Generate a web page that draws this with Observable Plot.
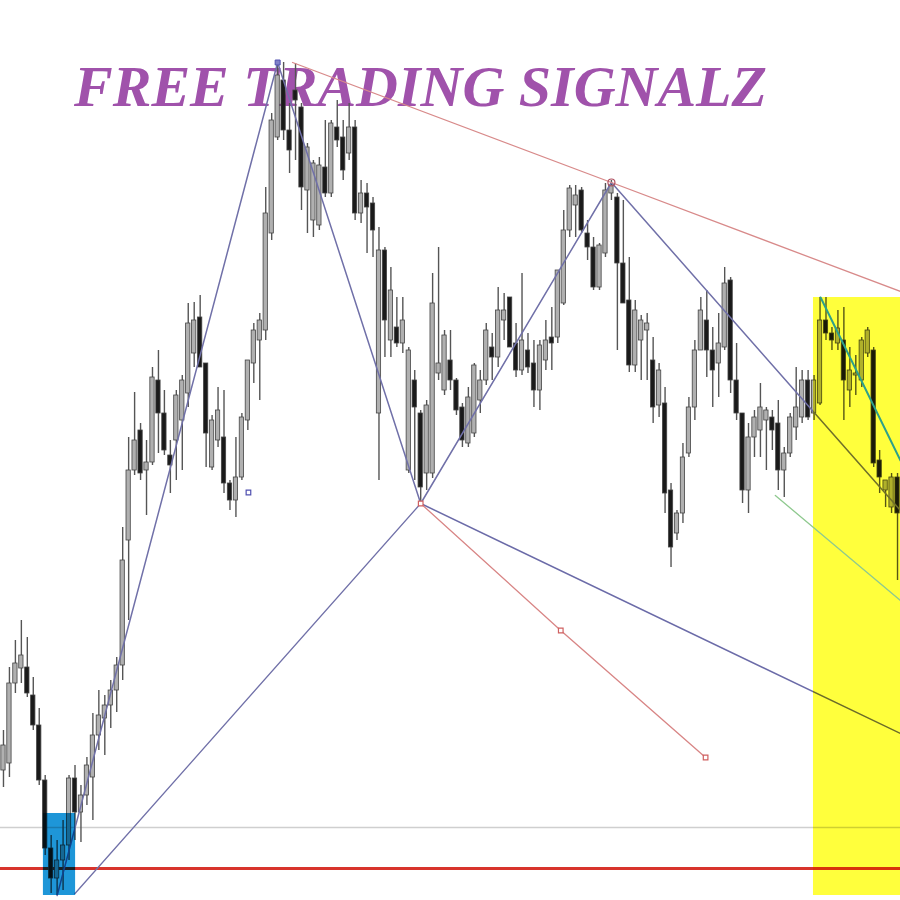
<!DOCTYPE html>
<html><head><meta charset="utf-8">
<script src="https://cdn.jsdelivr.net/npm/d3@7"></script>
<script src="https://cdn.jsdelivr.net/npm/@observablehq/plot@0.6"></script>
<style>html,body{margin:0;padding:0;background:#fff}</style>
</head><body><div id="chart"></div>
<script>
const titleText = "FREE TRADING SIGNALZ";
const opens = [130,137,217,232,233,205,175,120,52,22,40,55,122,88,105,123,165,182,195,210,235,360,430,470,430,438,520,487,445,460,480,507,547,583,537,433,460,463,417,400,423,480,537,560,570,667,763,820,770,810,793,710,680,675,733,707,773,763,747,773,687,707,697,487,650,560,573,557,430,520,487,427,427,527,510,540,520,493,457,467,500,520,553,543,580,603,557,530,550,537,510,540,563,563,597,670,695,710,667,653,613,647,707,703,637,600,535,560,570,540,495,497,410,367,387,447,493,550,580,550,537,553,620,520,487,410,463,470,480,483,477,430,447,473,483,520,487,497,580,567,557,560,510,525,520,547,550,440,410,393,423];
const highs = [170,233,260,280,263,223,192,125,65,60,80,125,135,115,143,187,210,205,220,243,373,463,508,477,460,533,550,510,460,510,525,597,598,605,537,485,513,510,420,463,487,540,577,587,713,787,840,838,797,837,797,757,740,743,780,780,800,780,797,780,720,717,703,673,653,633,603,603,553,530,490,500,627,653,570,570,522,497,513,537,530,577,567,613,607,603,577,627,567,560,560,580,593,630,690,715,715,713,680,663,657,717,720,707,700,643,600,585,587,563,537,513,417,390,457,503,560,603,610,573,587,633,623,557,487,477,490,517,493,490,500,453,487,533,530,530,525,603,603,573,590,593,553,545,563,573,553,450,420,427,427];
const lows = [113,123,207,217,203,170,115,45,7,5,10,40,60,58,95,80,150,145,172,188,220,280,425,420,385,435,447,445,407,420,430,493,533,533,433,430,453,407,390,383,420,470,517,500,560,660,760,760,727,740,690,667,663,670,703,703,753,720,740,680,677,647,643,420,543,543,553,547,427,420,397,410,422,520,505,510,485,453,453,463,487,515,520,533,560,553,523,525,527,493,490,530,530,557,595,663,663,667,640,610,610,643,700,550,597,528,528,520,520,477,483,387,333,360,377,443,480,550,523,493,503,550,507,480,397,387,443,443,430,450,410,403,443,460,477,480,480,495,560,550,550,480,493,505,513,543,433,407,393,387,320];
const closes = [155,217,237,245,207,175,120,52,22,40,55,122,88,105,135,165,185,195,210,235,340,430,460,427,438,523,487,450,435,505,520,577,580,533,467,480,490,417,400,423,483,540,570,580,687,780,825,770,750,800,713,753,737,735,707,777,760,730,773,687,707,693,670,650,580,610,557,580,550,493,413,495,597,537,565,520,490,460,503,535,520,570,543,590,590,553,530,560,533,510,555,560,557,630,670,712,705,670,653,613,655,710,715,637,597,535,590,580,577,493,530,407,353,387,443,493,550,590,550,530,557,617,520,487,410,463,483,493,490,470,430,447,483,493,520,483,520,580,567,560,572,520,530,527,560,570,437,423,420,423,387];

// pattern pivots (candle index, price)
const peakLine = [{i: 9, p: 5}, {i: 46, p: 838}];
const zigzag = [{i: 46, p: 838}, {i: 70, p: 397}, {i: 102, p: 718}, {i: 150.5, p: 390}];
const baseLine = [{i: 12, p: 7}, {i: 70, p: 397}];
const projLine = [{i: 70, p: 397}, {i: 150.5, p: 167}];
const targetLine = [{i: 70, p: 397}, {i: 93.5, p: 270}, {i: 117.8, p: 143}];
const targetMarks = [{i: 93.5, p: 270}, {i: 117.8, p: 143}, {i: 70, p: 397}];
const topTrend = [{i: 48.5, p: 838}, {i: 102, p: 718}, {i: 150.5, p: 609}];
const tealLine = [{i: 137.1, p: 603}, {i: 150.5, p: 440}];
const greenLine = [{i: 129.5, p: 405}, {i: 150.5, p: 300}];
const blueMarks = [{i: 41.1, p: 408}];
const peakMark = [{i: 46, p: 838}];
const peak2Mark = [{i: 102, p: 718}];
const supportLevel = [32];
const greyLevel = [73];
const blueBox = [{x1: 6.7, x2: 12.1, y1: 5, y2: 87}];
const yellowBox = [{x1: 135.9, x2: 150.6, y1: 5, y2: 603}];

const candles = opens.map((o, k) => ({i: k, open: o, high: highs[k], low: lows[k], close: closes[k]}));

const chart = Plot.plot({
  width: 900, height: 900, margin: 0,
  style: {background: "#fff"},
  x: {domain: [-0.5, 150.5], axis: null},
  y: {domain: [0, 900], axis: null},
  marks: [
    Plot.text([titleText], {frameAnchor: "top", dx: -30, dy: 87, lineAnchor: "middle", fontSize: 58, fontWeight: "bold", fontStyle: "italic", fontFamily: "Liberation Serif", fill: "#a052ab"}),
    Plot.ruleY(greyLevel, {stroke: "#cfcfcf", strokeWidth: 1.5}),
    Plot.ruleY(supportLevel, {stroke: "#d8342c", strokeWidth: 3}),
    Plot.ruleX(candles, {x: "i", y1: "low", y2: "high", stroke: "#555", strokeWidth: 1.4}),
    Plot.rect(candles, {x1: d => d.i - 0.36, x2: d => d.i + 0.36, y1: "open", y2: "close", fill: d => d.close >= d.open ? "#b0b0b0" : "#1a1a1a", stroke: "#444", strokeWidth: 0.8}),
    Plot.line(peakLine, {x: "i", y: "p", stroke: "#7070a8", strokeWidth: 1.5}),
    Plot.line(zigzag, {x: "i", y: "p", stroke: "#7070a8", strokeWidth: 1.5}),
    Plot.line(baseLine, {x: "i", y: "p", stroke: "#7070a8", strokeWidth: 1.3}),
    Plot.line(projLine, {x: "i", y: "p", stroke: "#6b6ba8", strokeWidth: 1.5}),
    Plot.line(targetLine, {x: "i", y: "p", stroke: "#d88585", strokeWidth: 1.3}),
    Plot.line(topTrend, {x: "i", y: "p", stroke: "#d88a8a", strokeWidth: 1.3}),
    Plot.dot(targetMarks, {x: "i", y: "p", symbol: "square", r: 2.6, stroke: "#d06060", fill: "#fff", strokeWidth: 1.2}),
    Plot.dot(blueMarks, {x: "i", y: "p", symbol: "square", r: 2.6, stroke: "#5050b0", fill: "#fff", strokeWidth: 1.2}),
    Plot.dot(peakMark, {x: "i", y: "p", symbol: "square", r: 2.8, stroke: "#5050b0", fill: "#8080c8", strokeWidth: 1}),
    Plot.dot(peak2Mark, {x: "i", y: "p", r: 3.5, stroke: "#b05060", fill: "none", strokeWidth: 1.2}),
    Plot.rect(blueBox, {x1: "x1", x2: "x2", y1: "y1", y2: "y2", fill: "#1e96d8", mixBlendMode: "multiply"}),
    Plot.rect(yellowBox, {x1: "x1", x2: "x2", y1: "y1", y2: "y2", fill: "#ffff3c", mixBlendMode: "multiply"}),
    Plot.line(tealLine, {x: "i", y: "p", stroke: "#2ea08a", strokeWidth: 2}),
    Plot.line(greenLine, {x: "i", y: "p", stroke: "#8fc98f", strokeWidth: 1.3})
  ]
});
document.getElementById("chart").append(chart);
</script>
</body></html>
